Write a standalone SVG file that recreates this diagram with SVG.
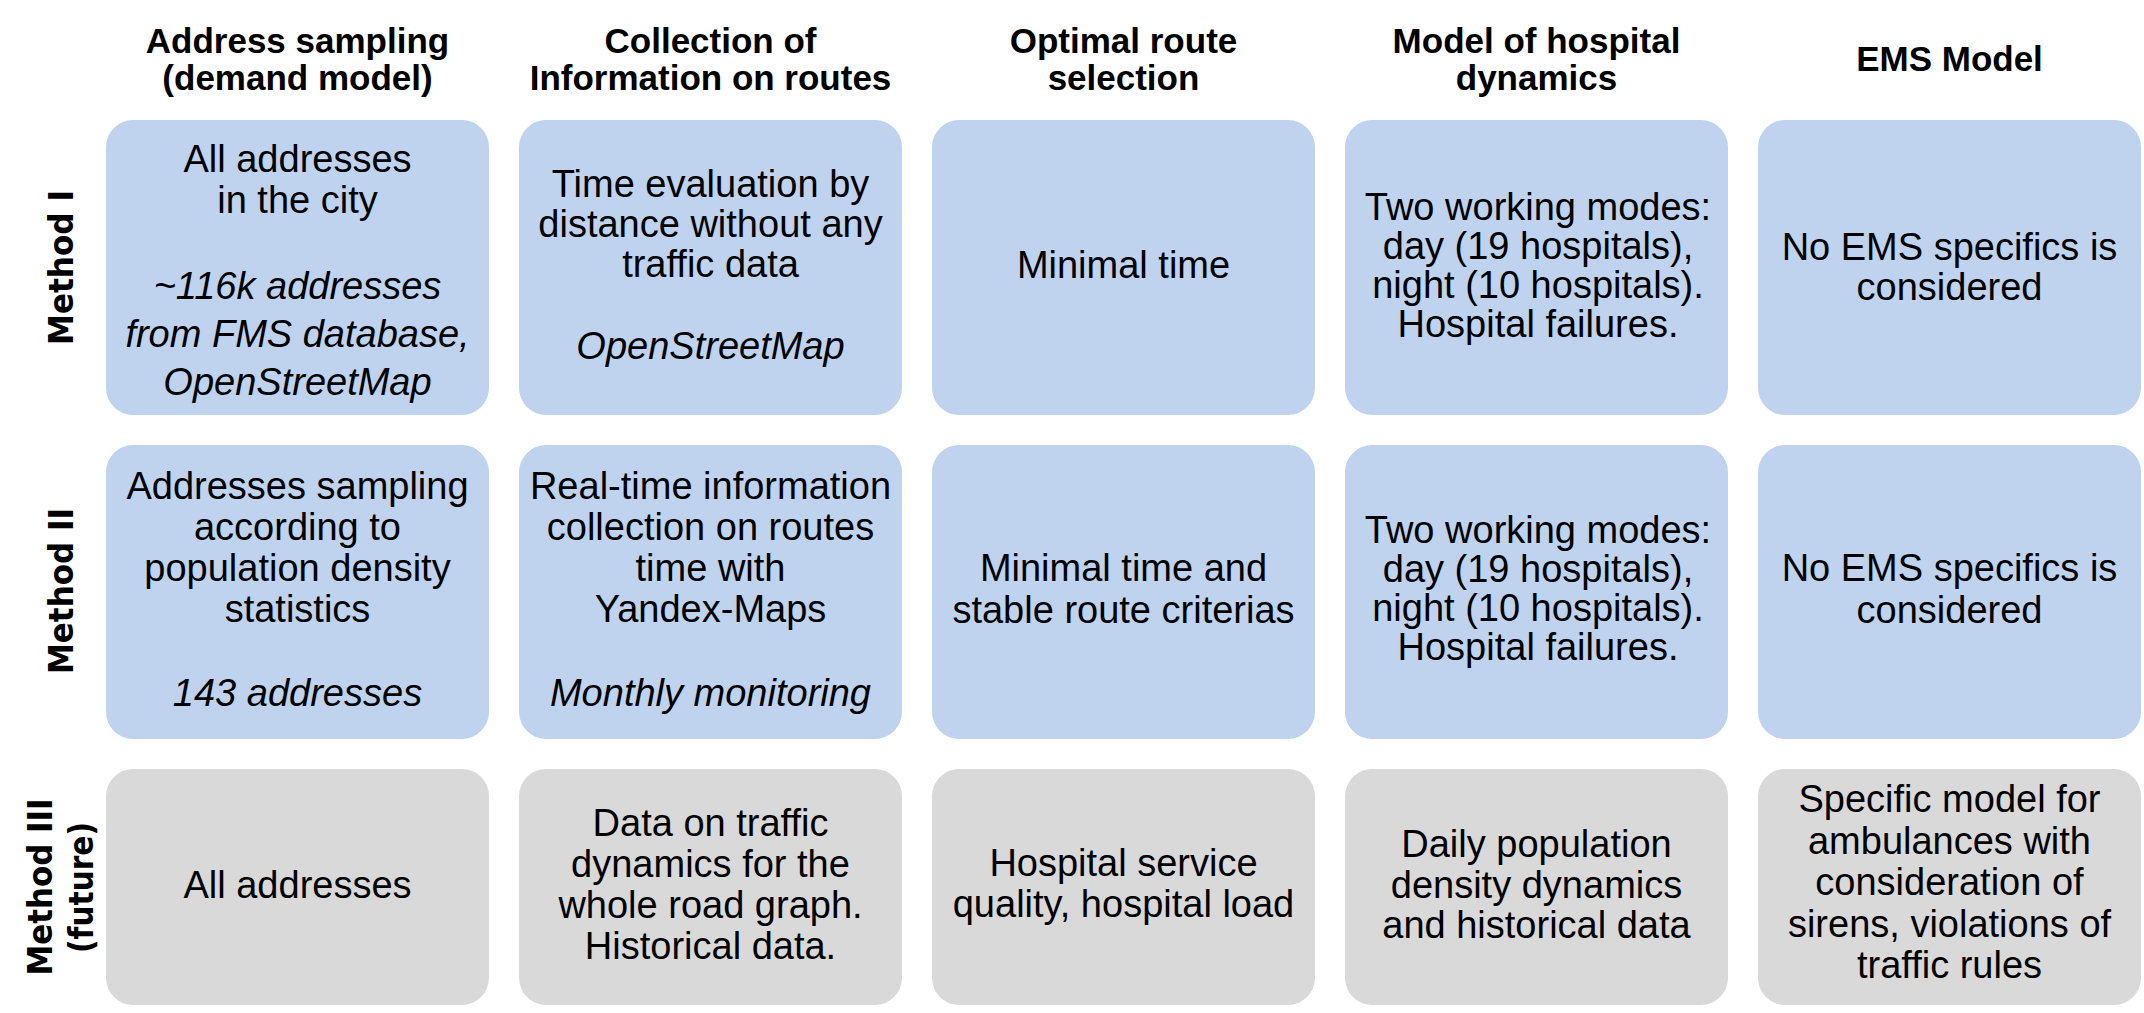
<svg xmlns="http://www.w3.org/2000/svg" width="2144" height="1013" viewBox="0 0 2144 1013">
<style>
.bg{fill:#FFFFFF}
.blue{fill:#BFD3EE}
.gray{fill:#D9D9D9}
.hdr{font-family:'Liberation Sans',Arial,sans-serif;font-weight:700;font-size:35px;text-anchor:middle;fill:#000}
.t{font-family:'Liberation Sans',Arial,sans-serif;font-size:38px;text-anchor:middle;fill:#000}
.it{font-style:italic}
.lbl{font-family:'DejaVu Sans','Liberation Sans',sans-serif;font-weight:700;font-size:34px;text-anchor:middle;fill:#000}
</style>
<rect class="bg" x="0" y="0" width="2144" height="1013"/>
<g id="headers">
<g id="h1"><text class="hdr"><tspan x="297.5" y="53">Address sampling</tspan><tspan x="297.5" y="90">(demand model)</tspan></text></g>
<g id="h2"><text class="hdr"><tspan x="710.5" y="53">Collection of</tspan><tspan x="710.5" y="90">Information on routes</tspan></text></g>
<g id="h3"><text class="hdr"><tspan x="1123.5" y="53">Optimal route</tspan><tspan x="1123.5" y="90">selection</tspan></text></g>
<g id="h4"><text class="hdr"><tspan x="1536.5" y="53">Model of hospital</tspan><tspan x="1536.5" y="90">dynamics</tspan></text></g>
<g id="h5"><text class="hdr" x="1949.5" y="71">EMS Model</text></g>
</g>
<g id="rowlabels">
<g id="m1"><text class="lbl" transform="translate(72.7,267.5) rotate(-90)" textLength="155" lengthAdjust="spacingAndGlyphs">Method I</text></g>
<g id="m2"><text class="lbl" transform="translate(72.7,591) rotate(-90)" textLength="166" lengthAdjust="spacingAndGlyphs">Method II</text></g>
<g id="m3"><text class="lbl" transform="translate(52,887) rotate(-90)" textLength="177" lengthAdjust="spacingAndGlyphs">Method III</text><text class="lbl" transform="translate(93,887.5) rotate(-90)" textLength="131" lengthAdjust="spacingAndGlyphs">(future)</text></g>
</g>
<g id="r1c1"><rect class="blue" x="106" y="120" width="383" height="295" rx="27"/>
<text class="t"><tspan x="297.5" y="172">All addresses</tspan><tspan x="297.5" y="212.5">in the city</tspan><tspan class="it" x="297.5" y="299">~116k addresses</tspan><tspan class="it" x="297.5" y="347">from FMS database,</tspan><tspan class="it" x="297.5" y="395">OpenStreetMap</tspan></text></g>
<g id="r1c2"><rect class="blue" x="519" y="120" width="383" height="295" rx="27"/>
<text class="t"><tspan x="710.5" y="197">Time evaluation by</tspan><tspan x="710.5" y="237">distance without any</tspan><tspan x="710.5" y="277">traffic data</tspan><tspan class="it" x="710.5" y="358.5">OpenStreetMap</tspan></text></g>
<g id="r1c3"><rect class="blue" x="932" y="120" width="383" height="295" rx="27"/>
<text class="t" x="1123.5" y="278">Minimal time</text></g>
<g id="r1c4"><rect class="blue" x="1345" y="120" width="383" height="295" rx="27"/>
<text class="t"><tspan x="1538" y="220">Two working modes:</tspan><tspan x="1538" y="259">day (19 hospitals),</tspan><tspan x="1538" y="298">night (10 hospitals).</tspan><tspan x="1538" y="337">Hospital failures.</tspan></text></g>
<g id="r1c5"><rect class="blue" x="1758" y="120" width="383" height="295" rx="27"/>
<text class="t"><tspan x="1949.5" y="260">No EMS specifics is</tspan><tspan x="1949.5" y="300">considered</tspan></text></g>
<g id="r2c1"><rect class="blue" x="106" y="445" width="383" height="294" rx="27"/>
<text class="t"><tspan x="297.5" y="499">Addresses sampling</tspan><tspan x="297.5" y="539.5">according to</tspan><tspan x="297.5" y="580.5">population density</tspan><tspan x="297.5" y="622">statistics</tspan><tspan class="it" x="297.5" y="706">143 addresses</tspan></text></g>
<g id="r2c2"><rect class="blue" x="519" y="445" width="383" height="294" rx="27"/>
<text class="t"><tspan x="710.5" y="499">Real-time information</tspan><tspan x="710.5" y="539.5">collection on routes</tspan><tspan x="710.5" y="580.5">time with</tspan><tspan x="710.5" y="622">Yandex-Maps</tspan><tspan class="it" x="710.5" y="706">Monthly monitoring</tspan></text></g>
<g id="r2c3"><rect class="blue" x="932" y="445" width="383" height="294" rx="27"/>
<text class="t"><tspan x="1123.5" y="581">Minimal time and</tspan><tspan x="1123.5" y="623">stable route criterias</tspan></text></g>
<g id="r2c4"><rect class="blue" x="1345" y="445" width="383" height="294" rx="27"/>
<text class="t"><tspan x="1538" y="543">Two working modes:</tspan><tspan x="1538" y="582">day (19 hospitals),</tspan><tspan x="1538" y="621">night (10 hospitals).</tspan><tspan x="1538" y="660">Hospital failures.</tspan></text></g>
<g id="r2c5"><rect class="blue" x="1758" y="445" width="383" height="294" rx="27"/>
<text class="t"><tspan x="1949.5" y="581">No EMS specifics is</tspan><tspan x="1949.5" y="623">considered</tspan></text></g>
<g id="r3c1"><rect class="gray" x="106" y="769" width="383" height="236" rx="27"/>
<text class="t" x="297.5" y="898">All addresses</text></g>
<g id="r3c2"><rect class="gray" x="519" y="769" width="383" height="236" rx="27"/>
<text class="t"><tspan x="710.5" y="836">Data on traffic</tspan><tspan x="710.5" y="877">dynamics for the</tspan><tspan x="710.5" y="918">whole road graph.</tspan><tspan x="710.5" y="959">Historical data.</tspan></text></g>
<g id="r3c3"><rect class="gray" x="932" y="769" width="383" height="236" rx="27"/>
<text class="t"><tspan x="1123.5" y="876">Hospital service</tspan><tspan x="1123.5" y="917">quality, hospital load</tspan></text></g>
<g id="r3c4"><rect class="gray" x="1345" y="769" width="383" height="236" rx="27"/>
<text class="t"><tspan x="1536.5" y="857">Daily population</tspan><tspan x="1536.5" y="897.5">density dynamics</tspan><tspan x="1536.5" y="938">and historical data</tspan></text></g>
<g id="r3c5"><rect class="gray" x="1758" y="769" width="383" height="236" rx="27"/>
<text class="t"><tspan x="1949.5" y="812">Specific model for</tspan><tspan x="1949.5" y="853.5">ambulances with</tspan><tspan x="1949.5" y="895">consideration of</tspan><tspan x="1949.5" y="936.5">sirens, violations of</tspan><tspan x="1949.5" y="978">traffic rules</tspan></text></g>
<g id="connectors"></g>
</svg>
